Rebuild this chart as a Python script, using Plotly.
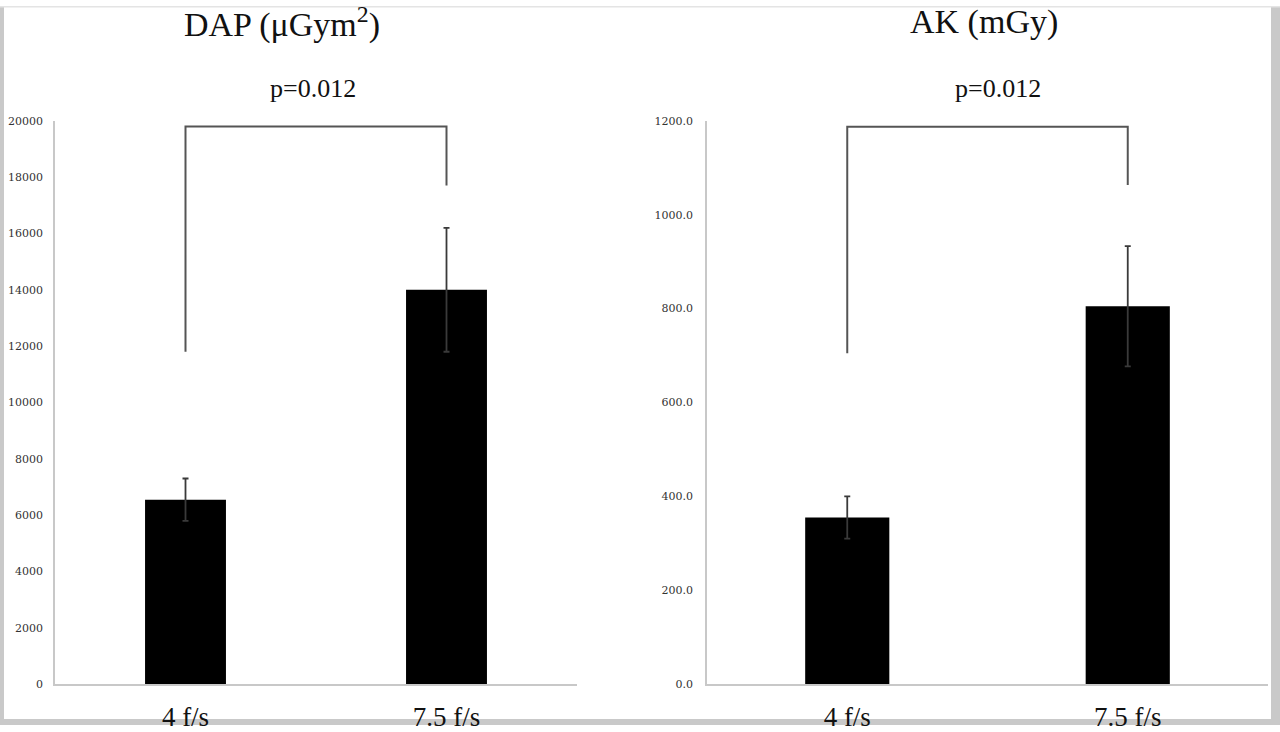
import plotly.graph_objects as go

W, H = 1280, 732

categories = ["4 f/s", "7.5 f/s"]

dap_mean = [6550, 14000]
dap_err = [750, 2200]
dap_ticks = [0, 2000, 4000, 6000, 8000, 10000, 12000, 14000, 16000, 18000, 20000]
dap_tick_labels = ["0", "2000", "4000", "6000", "8000", "10000", "12000", "14000", "16000", "18000", "20000"]
dap_bracket = [11800, 19800, 19800, 17700]

ak_mean = [355, 805]
ak_err = [45, 128]
ak_ticks = [0, 200, 400, 600, 800, 1000, 1200]
ak_tick_labels = ["0.0", "200.0", "400.0", "600.0", "800.0", "1000.0", "1200.0"]
ak_bracket = [705, 1187, 1187, 1063]

titles = ["DAP (μGym<sup>2</sup>)", "AK (mGy)"]
p_text = ["p=0.012", "p=0.012"]

SERIF = "Liberation Serif, Times New Roman, serif"
TICKFONT = "DejaVu Serif, serif"

fig = go.Figure()

def px_x(p):
    return p / W

def px_y(p):
    # page is shown slightly compressed vertically; compensate
    f = p / 0.985 - 5
    return 1 - f / H

err_style = dict(type="data", thickness=1.8, width=3, color="#3a3a3a")

fig.add_trace(go.Bar(x=categories, y=dap_mean, width=0.31, marker=dict(color="black", line=dict(width=0)),
                     error_y=dict(array=dap_err, **err_style), xaxis="x", yaxis="y", showlegend=False))
fig.add_trace(go.Scatter(x=[categories[0], categories[0], categories[1], categories[1]], y=dap_bracket,
                         mode="lines", line=dict(color="#555555", width=2), xaxis="x", yaxis="y",
                         showlegend=False, hoverinfo="skip"))

fig.add_trace(go.Bar(x=categories, y=ak_mean, width=0.30, marker=dict(color="black", line=dict(width=0)),
                     error_y=dict(array=ak_err, **err_style), xaxis="x2", yaxis="y2", showlegend=False))
fig.add_trace(go.Scatter(x=[categories[0], categories[0], categories[1], categories[1]], y=ak_bracket,
                         mode="lines", line=dict(color="#555555", width=2), xaxis="x2", yaxis="y2",
                         showlegend=False, hoverinfo="skip"))

ydom = [px_y(685), px_y(120)]

xcommon = dict(type="category", range=[-0.5, 1.5], showgrid=False, zeroline=False,
               showline=True, linecolor="#c8c8c8", linewidth=1.5,
               ticks="outside", ticklen=8, tickcolor="rgba(0,0,0,0)",
               tickfont=dict(family=SERIF, size=27, color="#111"))
ycommon = dict(showgrid=False, zeroline=False, showline=True, linecolor="#c8c8c8", linewidth=1.5,
               ticks="outside", tickcolor="rgba(0,0,0,0)",
               tickfont=dict(family=TICKFONT, size=11, color="#333"))

fig.update_layout(
    width=W, height=H,
    margin=dict(l=0, r=0, t=0, b=0),
    paper_bgcolor="white", plot_bgcolor="white",
    bargap=0.5,
    xaxis=dict(domain=[px_x(55), px_x(577)], anchor="y", **xcommon),
    yaxis=dict(domain=ydom, anchor="x", range=[0, 20000], tickvals=dap_ticks,
               ticktext=dap_tick_labels, ticklen=8, **ycommon),
    xaxis2=dict(domain=[px_x(707), px_x(1268)], anchor="y2", **xcommon),
    yaxis2=dict(domain=ydom, anchor="x2", range=[0, 1200], tickvals=ak_ticks,
                ticktext=ak_tick_labels, ticklen=10, **ycommon),
)

# titles and p-values
title_pos = [(282, 21), (984, 21)]
p_pos = [(313, 88), (998, 88)]
for t, (x, y) in zip(titles, title_pos):
    fig.add_annotation(text=t, x=px_x(x), y=px_y(y), xref="paper", yref="paper",
                       showarrow=False, xanchor="center", yanchor="middle",
                       font=dict(family=SERIF, size=34, color="#111"))
for t, (x, y) in zip(p_text, p_pos):
    fig.add_annotation(text=t, x=px_x(x), y=px_y(y), xref="paper", yref="paper",
                       showarrow=False, xanchor="center", yanchor="middle",
                       font=dict(family=SERIF, size=26, color="#111"))

# gray frame around the image
frame = "#c9c9c9"
fig.add_shape(type="rect", xref="paper", yref="paper", x0=0, x1=px_x(4), y0=0, y1=1,
              fillcolor=frame, line=dict(width=0), layer="below")
fig.add_shape(type="rect", xref="paper", yref="paper", x0=px_x(1271), x1=1, y0=0, y1=1,
              fillcolor=frame, line=dict(width=0), layer="below")
fig.add_shape(type="rect", xref="paper", yref="paper", x0=0, x1=1, y0=0, y1=1 - 726 / H,
              fillcolor=frame, line=dict(width=0), layer="below")
fig.add_shape(type="rect", xref="paper", yref="paper", x0=0, x1=1, y0=1 - 1.5 / H, y1=1,
              fillcolor="#e4e4e4", line=dict(width=0), layer="below")

fig.write_html("out.html")
